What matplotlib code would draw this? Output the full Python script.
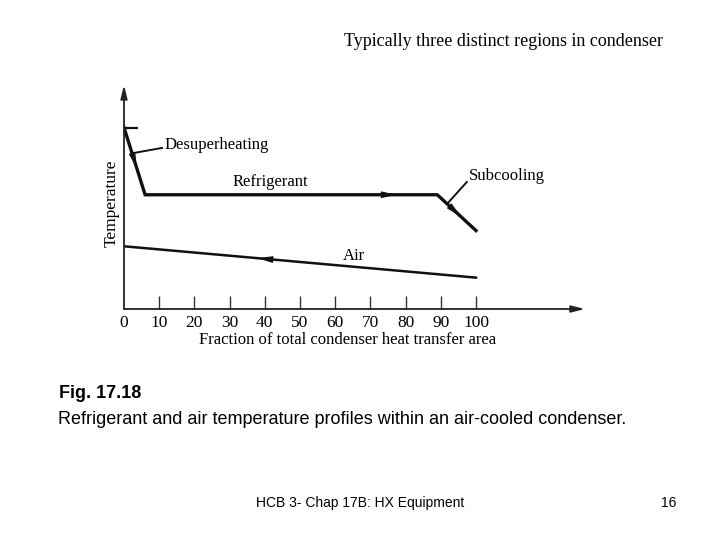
import matplotlib
matplotlib.use("Agg")
import matplotlib.pyplot as plt

# refrigerant profile (fraction of area %, temperature arbitrary units)
ref_x = [0, 6, 89, 100]
ref_t = [81, 51, 51, 35]

# air profile
air_x = [0, 100]
air_t = [28, 14]

tick_vals = [0, 10, 20, 30, 40, 50, 60, 70, 80, 90, 100]
tick_labels = ["0", "10", "20", "30", "40", "50", "60", "70", "80", "90", "100"]
faint_ticks = [40, 60, 90]

serif = "Liberation Serif"
sans = "Liberation Sans"

fig = plt.figure(figsize=(7.2, 5.4), dpi=100)
fig.patch.set_facecolor("white")

# axes placed to match the scanned figure
L, R, B, T = 124, 585, 309, 85
ax = fig.add_axes([L / 720, 1 - B / 540, (R - L) / 720, (B - T) / 540])
ax.set_xlim(0, (R - L) / 3.52)
ax.set_ylim(0, 100)
for s in ax.spines.values():
    s.set_visible(False)

# axis lines with arrow heads
ax.annotate("", xy=(0, 1), xytext=(0, 0), xycoords="axes fraction",
            arrowprops=dict(arrowstyle="-|>,head_length=0.8,head_width=0.2",
                            color="#222222", lw=1.3, shrinkA=0, shrinkB=0))
ax.annotate("", xy=(1, 0), xytext=(0, 0), xycoords="axes fraction",
            arrowprops=dict(arrowstyle="-|>,head_length=0.8,head_width=0.2",
                            color="#222222", lw=1.3, shrinkA=0, shrinkB=0))

ax.set_xticks(tick_vals)
ax.set_xticklabels(tick_labels, fontfamily=serif, fontsize=12.5)
ax.set_yticks([])
ax.tick_params(axis="x", direction="in", length=9.5, width=1.0,
               color="#333333", pad=4)
for t, v in zip(ax.xaxis.get_major_ticks(), tick_vals):
    if v in faint_ticks:
        t.tick1line.set_color("#dddddd")
    if v == 0:
        t.tick1line.set_visible(False)

# profiles
ax.plot(ref_x, ref_t, color="#111111", lw=2.4, solid_joinstyle="miter")
ax.hlines(ref_t[0], 0, 4, color="#111111", lw=1.6)
ax.plot(air_x, air_t, color="#111111", lw=1.8)


def head(x0, y0, x1, y1, f):
    # small arrowhead along a segment at fraction f
    xa = x0 + (x1 - x0) * f
    ya = y0 + (y1 - y0) * f
    xb = x0 + (x1 - x0) * (f - 0.06)
    yb = y0 + (y1 - y0) * (f - 0.06)
    ax.annotate("", xy=(xa, ya), xytext=(xb, yb),
                arrowprops=dict(arrowstyle="-|>,head_length=0.9,head_width=0.2",
                                color="#111111", lw=0.8, shrinkA=0, shrinkB=0))


head(ref_x[0], ref_t[0], ref_x[1], ref_t[1], 0.6)
head(ref_x[1], ref_t[1], ref_x[2], ref_t[2], 0.86)
head(ref_x[2], ref_t[2], ref_x[3], ref_t[3], 0.6)
head(air_x[1], air_t[1], air_x[0], air_t[0], 0.62)

# labels and leader lines
ax.plot([10.8, 2.6], [71.9, 69.6], color="#111111", lw=1.4)
ax.text(11.6, 73.2, "Desuperheating", fontfamily=serif, fontsize=12,
        va="center", ha="left")
ax.text(41.5, 56.5, "Refrigerant", fontfamily=serif, fontsize=12,
        va="center", ha="center")
ax.plot([97.4, 92.0], [56.7, 47.3], color="#111111", lw=1.4)
ax.text(98.0, 59.4, "Subcooling", fontfamily=serif, fontsize=12,
        va="center", ha="left")
ax.text(65.3, 23.7, "Air", fontfamily=serif, fontsize=12,
        va="center", ha="center")

fig.text(112 / 720, 1 - 203 / 540, "Temperature", rotation=90,
         fontfamily=serif, fontsize=12.5, ha="center", va="center")
fig.text(348 / 720, 1 - 340 / 540, "Fraction of total condenser heat transfer area",
         fontfamily=serif, fontsize=12, ha="center", va="center")

# slide text
fig.text(503 / 720, 1 - 42 / 540, "Typically three distinct regions in condenser",
         fontfamily=serif, fontsize=13, ha="center", va="center")
fig.text(59 / 720, 1 - 394 / 540, "Fig. 17.18", fontfamily=sans,
         fontweight="bold", fontsize=13, ha="left", va="center")
fig.text(58 / 720, 1 - 420 / 540,
         "Refrigerant and air temperature profiles within an air-cooled condenser.",
         fontfamily=sans, fontsize=13, ha="left", va="center")
fig.text(360 / 720, 1 - 503 / 540, "HCB 3- Chap 17B: HX Equipment",
         fontfamily=sans, fontsize=10, ha="center", va="center")
fig.text(669 / 720, 1 - 503 / 540, "16", fontfamily=sans, fontsize=10,
         ha="center", va="center")

fig.savefig("out.png", dpi=100)
